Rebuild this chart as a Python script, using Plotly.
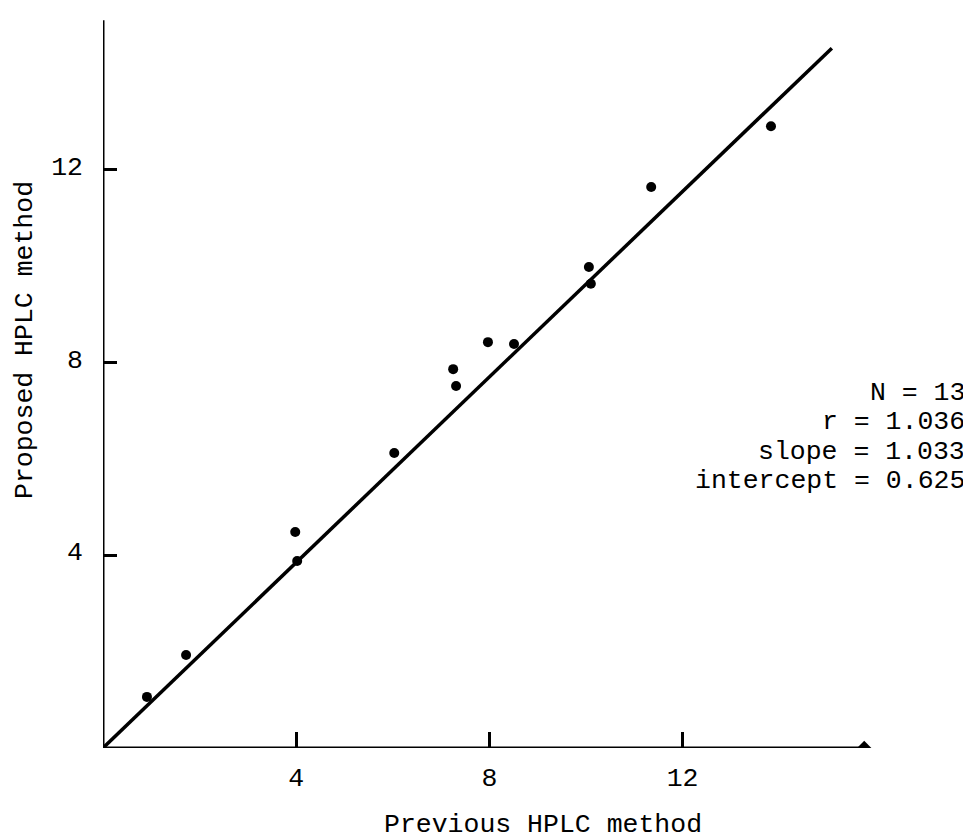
import plotly.graph_objects as go

# Data
previous = [0.91, 1.72, 3.98, 4.02, 6.03, 7.25, 7.31, 7.97, 8.51, 10.06, 10.10, 11.35, 13.83]
proposed = [1.06, 1.93, 4.48, 3.88, 6.12, 7.86, 7.51, 8.42, 8.38, 9.98, 9.63, 11.64, 12.90]

fit_x = [0.0, 15.09]
fit_y = [0.0, 14.52]

x_axis_x = [0.0, 15.76]
x_axis_y = [0.0, 0.0]
y_axis_x = [0.0, 0.0]
y_axis_y = [0.0, 15.1]

tick_vals = [4, 8, 12]
tick_text = ["4", "8", "12"]

stat_labels = ["N = 13", "r = 1.036", "slope = 1.033", "intercept = 0.625"]
stat_y = [7.37, 6.76, 6.14, 5.54]

x_title = "Previous HPLC method"
y_title = "Proposed HPLC method"

FONT = "Liberation Mono, Courier New, monospace"
FS = 26.5

fig = go.Figure()

# axis lines
fig.add_trace(go.Scatter(x=x_axis_x, y=x_axis_y, mode="lines",
                         line=dict(color="black", width=3), hoverinfo="skip"))
fig.add_trace(go.Scatter(x=[x_axis_x[-1]], y=[x_axis_y[-1]], mode="markers",
                         marker=dict(color="black", size=11, symbol="diamond"), hoverinfo="skip"))
fig.add_trace(go.Scatter(x=y_axis_x, y=y_axis_y, mode="lines",
                         line=dict(color="black", width=3), hoverinfo="skip"))

# fitted line
fig.add_trace(go.Scatter(x=fit_x, y=fit_y, mode="lines",
                         line=dict(color="black", width=3.5), hoverinfo="skip"))

# data points
fig.add_trace(go.Scatter(x=previous, y=proposed, mode="markers",
                         marker=dict(color="black", size=10)))

# the page adds an 8px body margin, so the figure is 8px smaller on each side
OFF = 8
W, H = 971 - OFF, 840 - OFF
L, R, T, B = 103 - OFF, 0, 18 - OFF, 840 - 748
plot_w = W - L - R
plot_h = H - T - B
px_per_unit_x = 48.3
px_per_unit_y = 48.2

fig.update_layout(
    width=W, height=H,
    margin=dict(l=L, r=R, t=T, b=B, pad=0),
    paper_bgcolor="white", plot_bgcolor="white",
    showlegend=False,
    font=dict(family=FONT, size=FS, color="black"),
    xaxis=dict(range=[0, plot_w / px_per_unit_x], showgrid=False, zeroline=False,
               showline=False, tickvals=tick_vals, ticktext=tick_text,
               ticks="inside", ticklen=16, tickwidth=3, tickcolor="black",
               ticklabelstandoff=10,
               tickfont=dict(family=FONT, size=FS, color="black")),
    yaxis=dict(range=[0, plot_h / px_per_unit_y], showgrid=False, zeroline=False,
               showline=False, tickvals=tick_vals, ticktext=tick_text,
               ticks="inside", ticklen=14, tickwidth=3, tickcolor="black",
               ticklabelstandoff=19, ticklabelshift=-4,
               tickfont=dict(family=FONT, size=FS, color="black")),
)

# statistics block (right aligned)
for label, yv in zip(stat_labels, stat_y):
    fig.add_annotation(text=label, xref="paper", yref="y",
                       x=(967 - OFF - L) / plot_w, y=yv, xanchor="right", yanchor="middle",
                       showarrow=False, font=dict(family=FONT, size=FS, color="black"))

# axis titles
fig.add_annotation(text=x_title, xref="paper", yref="paper",
                   x=(543 - OFF - L) / plot_w, y=-(825 - 748) / plot_h,
                   xanchor="center", yanchor="middle", showarrow=False,
                   font=dict(family=FONT, size=FS, color="black"))
fig.add_annotation(text=y_title, xref="paper", yref="paper",
                   x=-(103 - 25) / plot_w, y=(748 - 340) / plot_h,
                   xanchor="center", yanchor="middle", textangle=-90, showarrow=False,
                   font=dict(family=FONT, size=FS, color="black"))

fig.write_html("out.html")
